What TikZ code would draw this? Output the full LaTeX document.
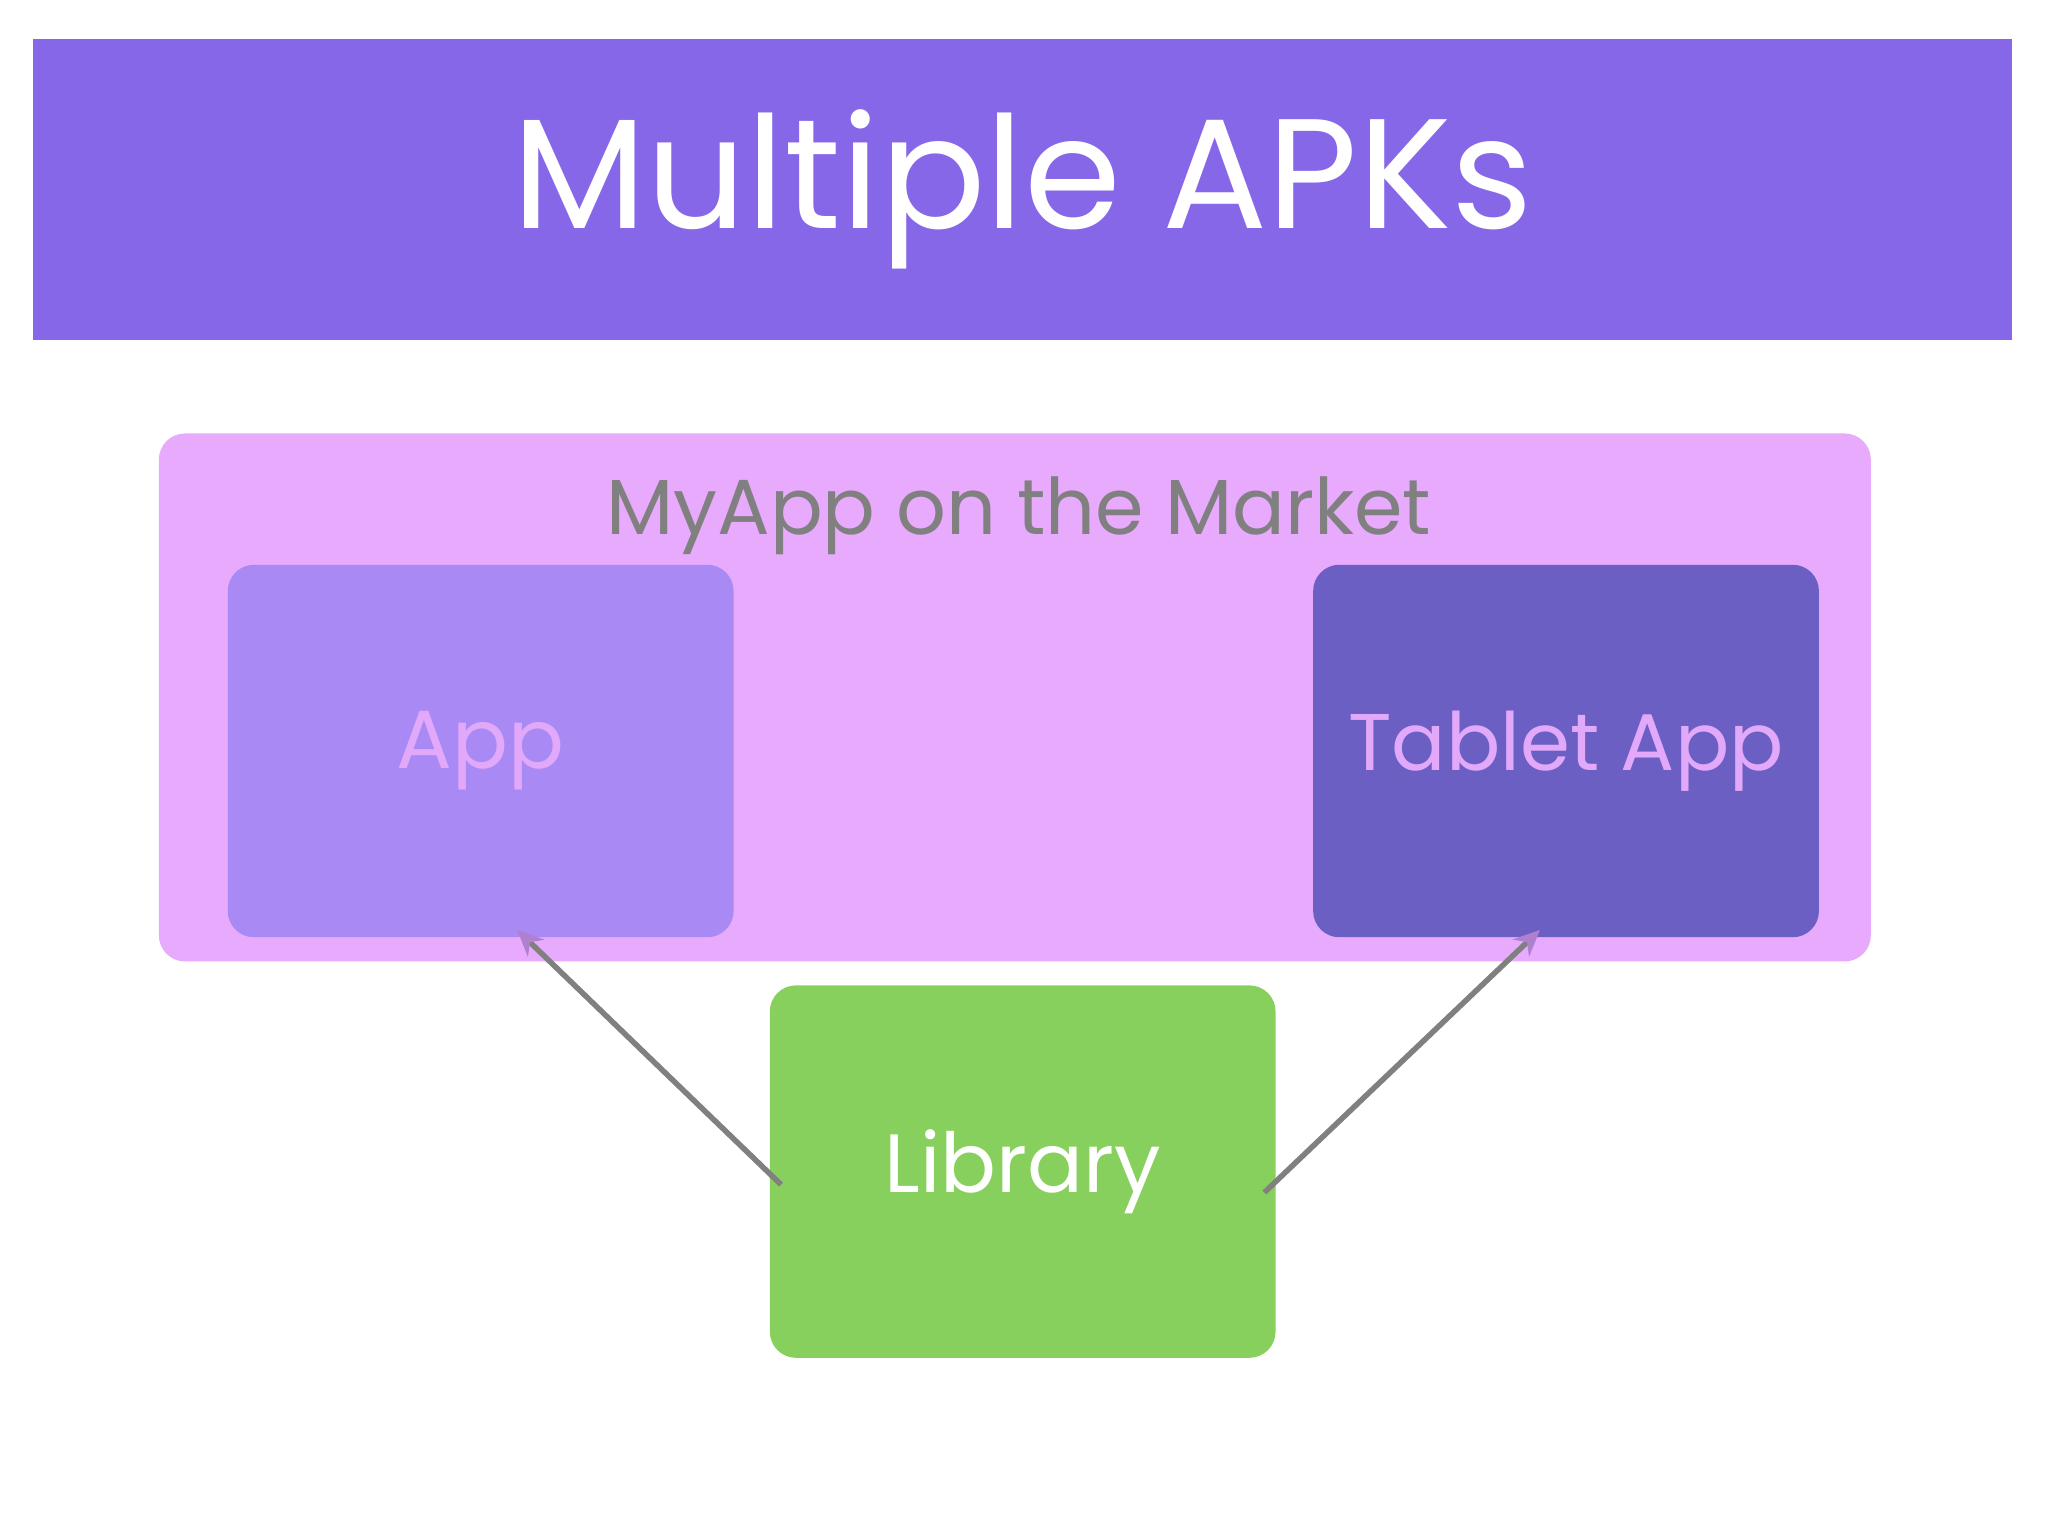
\documentclass[tikz,border=0pt]{standalone}
\usepackage{fontspec}
\setmainfont{Poppins}
\usetikzlibrary{arrows.meta}
\definecolor{titlebg}{HTML}{8567E8}
\definecolor{outer}{HTML}{E8AAFC}
\definecolor{appc}{HTML}{A98AF5}
\definecolor{tabc}{HTML}{6B5FC4}
\definecolor{libc}{HTML}{88D05E}
\definecolor{pinkt}{HTML}{E2A8FA}
\definecolor{arrh}{HTML}{B080D0}
\tikzset{
  box/.style={rounded corners=0.2cm, inner sep=0pt, minimum width=3.87cm, minimum height=2.85cm, font=\fontsize{18}{21}\selectfont},
  conn/.style={draw=gray, line width=1.2pt, -{Stealth[length=0.2cm,width=0.18cm,fill=arrh,color=arrh]}}
}
\begin{document}
\begin{tikzpicture}[x=0.01cm,y=-0.01cm]
\useasboundingbox (0,0) rectangle (1568,1176);
\fill[white] (0,0) rectangle (1568,1176);
\node[fill=titlebg, minimum width=15.14cm, minimum height=2.30cm, inner sep=0pt, text=white, font=\fontsize{34}{38}\selectfont] (title) at (783,145) {Multiple APKs};
\node[rounded corners=0.2cm, inner sep=0pt, fill=outer, minimum width=13.10cm, minimum height=4.04cm] (outer) at (777,534) {};
\node[text=gray, font=\fontsize{17}{20}\selectfont] (market) at (780,395) {MyApp on the Market};
\node[box, fill=appc, text=pinkt] (app) at (368,575) {App};
\node[box, fill=tabc, text=pinkt, font=\fontsize{17.5}{20}\selectfont] (tab) at (1199,575) {Tablet App};
\node[box, fill=libc, text=white] (lib) at (783,897) {Library};
\coordinate (l1) at (598,907);
\coordinate (l2) at (968,913);
\coordinate (a1) at (396,712);
\coordinate (a2) at (1179,712);
\draw[conn] (l1) -- (a1);
\draw[conn] (l2) -- (a2);
\end{tikzpicture}
\end{document}
